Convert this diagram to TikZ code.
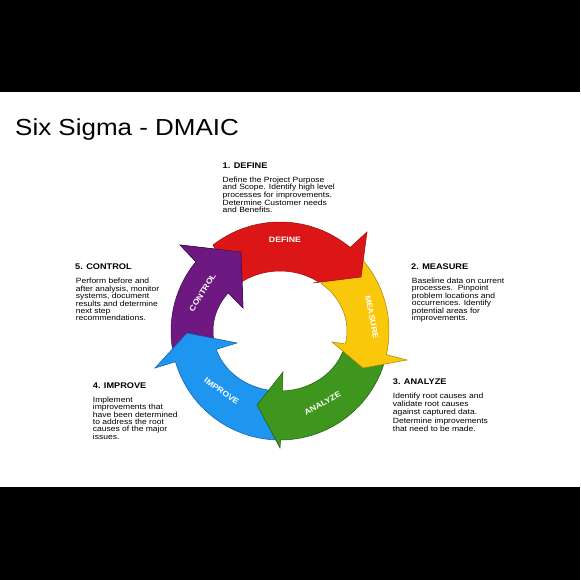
\documentclass[tikz,border=0pt]{standalone}
\usepackage{fontspec}
\setmainfont{Liberation Sans}
\newfontfamily\widesans[FakeStretch=1.12]{Liberation Sans}
\definecolor{cRed}{RGB}{220,22,22}
\definecolor{cRedD}{RGB}{150,10,10}
\definecolor{cYel}{RGB}{250,200,10}
\definecolor{cYelD}{RGB}{170,130,0}
\definecolor{cGrn}{RGB}{62,150,30}
\definecolor{cGrnD}{RGB}{30,90,15}
\definecolor{cBlu}{RGB}{30,150,240}
\definecolor{cBluD}{RGB}{15,90,160}
\definecolor{cPur}{RGB}{110,25,130}
\definecolor{cPurD}{RGB}{60,10,75}
\newcommand\mytightlines{\lineskiplimit=-100pt\relax\lineskip=0pt\relax}
\tikzset{
  arw/.style={line width=0.5pt, line join=miter},
  lbl/.style={text=white, inner sep=0pt, font=\widesans\bfseries\fontsize{7.8}{9}\selectfont},
  hd/.style={anchor=north west, inner sep=0pt, font=\widesans\bfseries\fontsize{8.2}{10}\selectfont},
  bd/.style={anchor=north west, inner sep=0pt, align=left,
    font=\widesans\fontsize{7.6}{#1}\selectfont\mytightlines},
}
\begin{document}
\begin{tikzpicture}[x=1pt,y=1pt]
\useasboundingbox (0,0) rectangle (580,-580);
\fill[black] (0,0) rectangle (580,-580);
\fill[white] (0,-92) rectangle (580,-487);

\node[anchor=north west, inner sep=0pt, font=\widesans\fontsize{23.2}{26}\selectfont] (title) at (15,-118) {Six Sigma - DMAIC};

\begin{scope}[shift={(280,-331)}]
% Control (purple)
\path[arw, fill=cPur, draw=cPurD] (190:109) arc[start angle=190, end angle=140.5, radius=109]
  -- (-100,86) -- (-39,79) -- (-37,23) -- (140.5:67 and 60)
  arc[start angle=140.5, end angle=190, x radius=67, y radius=60] -- cycle;
% Improve (blue)
\path[arw, fill=cBlu, draw=cBluD] (267.5:109) arc[start angle=267.5, end angle=196.4, radius=109]
  -- (-125,-37) -- (-93,-2) -- (-43,-12) -- (197.8:67 and 60)
  arc[start angle=197.8, end angle=267.5, x radius=67, y radius=60] -- cycle;
% Analyze (green)
\path[arw, fill=cGrn, draw=cGrnD] (344:109) arc[start angle=344, end angle=270.3, radius=109]
  -- (0,-117) -- (-23,-74) -- (3,-41) -- (272:67 and 60)
  arc[start angle=272, end angle=344, x radius=67, y radius=60] -- cycle;
% Measure (yellow)
\path[arw, fill=cYel, draw=cYelD] (52:109) arc[start angle=52, end angle=-12.5, radius=109]
  -- (127,-29) -- (83,-37) -- (52,-11) -- (-12.5:67 and 60)
  arc[start angle=-12.5, end angle=52, x radius=67, y radius=60] -- cycle;
% Define (red)
\path[arw, fill=cRed, draw=cRedD] (128:109) arc[start angle=128, end angle=50, radius=109]
  -- (87,99) -- (81,54) -- (33,48) -- (54.5:67 and 60)
  arc[start angle=54.5, end angle=128, x radius=67, y radius=60] -- cycle;
% Control head again (over Define tail)
\fill[cPur] (140.5:109) -- (-100,86) -- (-39,79) -- (-37,23) -- (140.5:67 and 60) -- cycle;
\draw[arw, cPurD] (140.5:109) -- (-100,86) -- (-39,79) -- (-37,23) -- (140.5:67 and 60);

\node[lbl] (lD) at (5,91) {DEFINE};
\node[lbl, rotate=-79] (lM) at (92,14) {MEASURE};
\node[lbl, rotate=29] (lA) at (42.5,-72.3) {ANALYZE};
\node[lbl, rotate=-35] (lI) at (-58.3,-60) {IMPROVE};
\node[lbl, rotate=58] (lC) at (-77.5,38.5) {CONTROL};
\end{scope}

\node[hd] (h1) at (222.5,-162.3) {1. DEFINE};
\node[bd=7.6] (b1) at (222.5,-176.5) {Define the Project Purpose\\and Scope. Identify high level\\processes for improvements.\\Determine Customer needs\\and Benefits.};

\node[hd] (h2) at (411,-264) {2. MEASURE};
\node[bd=7.4] (b2) at (411.7,-277.8) {Baseline data on current\\processes.\ \ Pinpoint\\problem locations and\\occurrences. Identify\\potential areas for\\improvements.};

\node[hd] (h3) at (392.7,-379) {3. ANALYZE};
\node[bd=8.2] (b3) at (392.7,-392.8) {Identify root causes and\\validate root causes\\against captured data.\\Determine improvements\\that need to be made.};

\node[hd] (h4) at (92.7,-382.5) {4. IMPROVE};
\node[bd=7.4] (b4) at (92.7,-396.5) {Implement\\improvements that\\have been determined\\to address the root\\causes of the major\\issues.};

\node[hd] (h5) at (75,-264) {5. CONTROL};
\node[bd=7.4] (b5) at (75.7,-278.2) {Perform before and\\after analysis, monitor\\systems, document\\results and determine\\next step\\recommendations.};
\end{tikzpicture}
\end{document}
